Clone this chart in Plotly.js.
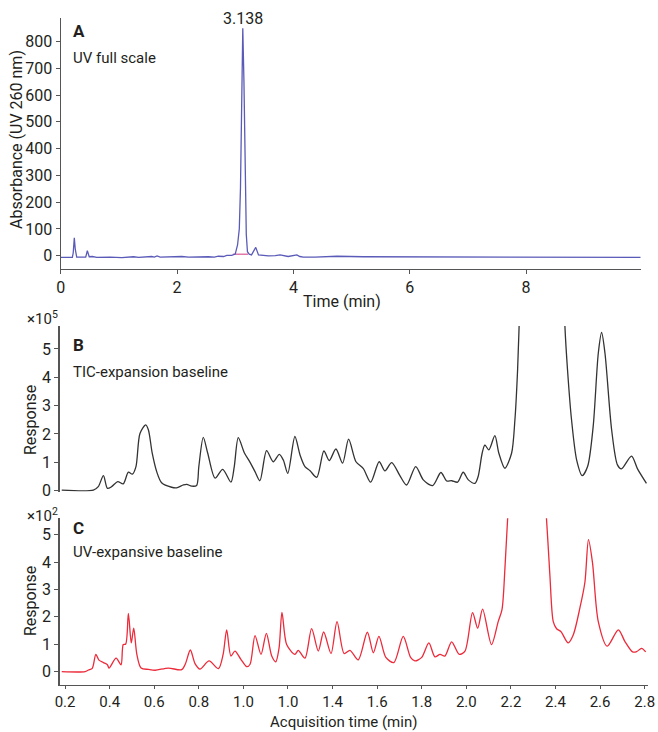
<!DOCTYPE html>
<html>
<head>
<meta charset="utf-8">
<script src="https://cdn.plot.ly/plotly-3.0.1.min.js"></script>
<style>
  html, body { margin: 0; padding: 0; background: #ffffff; }
  #chart { width: 658px; height: 732px; }
</style>
</head>
<body>
<div id="chart"></div>
<script>
// ---- Panel A: UV full scale (Absorbance vs Time) ----
const timeA = [0, 0.2, 0.215, 0.234, 0.25, 0.275, 0.43, 0.458, 0.49, 0.544, 0.62, 0.848, 1.05, 1.25, 1.34, 1.45, 1.51, 1.565, 1.61, 1.656, 1.71, 1.85, 1.97, 2.08, 2.2, 2.31, 2.42, 2.54, 2.64, 2.71, 2.8, 2.855, 2.94, 3.0, 3.04, 3.07, 3.09, 3.11, 3.13, 3.15, 3.17, 3.19, 3.21, 3.24, 3.28, 3.353, 3.4, 3.47, 3.5, 3.57, 3.69, 3.77, 3.91, 4.06, 4.11, 4.17, 4.37, 4.75, 5.2, 6.0, 7.0, 8.0, 9.0, 9.97];
const absA = [-6, -6, 10, 67, 25, -5, -5.5, 19, -4, -3, -6, -5, -7, -4, -6, -4, -5, -3, -5, -1, -5, -4, -5, -3, -5, -4, -5, -4, -5, -2, -3, 1, 1, 6, 40, 100, 250, 650, 850, 650, 300, 80, 15, 6, 3, 31, 3, 1, 2, -1, 0, 3, -3, 3, -3, -5, -5, -2, -4, -4, -4, -5, -5, -6];
const baselineX = [2.96, 3.22];
const baselineY = [5, 5];
const peakLabel = "3.138";
const peakTime = 3.138;
const peakHeight = 850;

// ---- Panel B: TIC expansion (x10^5) ----
const timeB = [0.185, 0.327, 0.349, 0.372, 0.39, 0.409, 0.436, 0.461, 0.484, 0.502, 0.518, 0.536, 0.562, 0.574, 0.591, 0.611, 0.633, 0.678, 0.70, 0.731, 0.746, 0.768, 0.79, 0.80, 0.82, 0.84, 0.873, 0.907, 0.944, 0.959, 0.977, 1.004, 1.03, 1.052, 1.074, 1.104, 1.134, 1.161, 1.179, 1.199, 1.231, 1.254, 1.276, 1.299, 1.329, 1.361, 1.385, 1.415, 1.445, 1.472, 1.505, 1.538, 1.571, 1.609, 1.635, 1.665, 1.702, 1.732, 1.773, 1.807, 1.849, 1.886, 1.912, 1.934, 1.961, 1.986, 2.009, 2.039, 2.053, 2.071, 2.083, 2.101, 2.128, 2.146, 2.173, 2.203, 2.218, 2.23, 2.237, 2.26, 2.34, 2.42, 2.442, 2.454, 2.472, 2.495, 2.52, 2.544, 2.569, 2.592, 2.607, 2.622, 2.652, 2.678, 2.696, 2.741, 2.768, 2.808];
const respB = [0.02, 0.02, 0.14, 0.53, 0.08, 0.14, 0.32, 0.24, 0.65, 0.58, 0.85, 2.02, 2.32, 2.14, 1.32, 0.67, 0.28, 0.12, 0.10, 0.20, 0.22, 0.16, 0.18, 0.85, 1.88, 1.32, 0.44, 0.75, 0.30, 0.85, 1.87, 1.34, 1.0, 0.67, 0.35, 1.41, 1.02, 1.28, 1.08, 0.61, 1.91, 1.26, 0.85, 0.70, 0.47, 1.40, 1.06, 1.47, 0.97, 1.82, 1.02, 0.78, 0.30, 1.02, 0.70, 0.99, 0.53, 0.20, 0.85, 0.38, 0.18, 0.64, 0.34, 0.35, 0.30, 0.65, 0.38, 0.26, 0.5, 1.32, 1.61, 1.44, 1.94, 1.32, 0.79, 1.32, 2.50, 4.26, 5.85, 12, 25, 12, 5.85, 4.26, 2.50, 1.08, 0.53, 0.85, 2.26, 4.85, 5.58, 4.85, 2.14, 0.91, 0.77, 1.22, 0.77, 0.26];

// ---- Panel C: UV expansion (x10^2) ----
const timeC = [0.185, 0.29, 0.305, 0.322, 0.338, 0.352, 0.372, 0.39, 0.397, 0.429, 0.451, 0.461, 0.472, 0.484, 0.497, 0.508, 0.522, 0.541, 0.574, 0.604, 0.663, 0.723, 0.74, 0.762, 0.783, 0.805, 0.846, 0.888, 0.909, 0.925, 0.944, 0.962, 0.988, 1.015, 1.03, 1.052, 1.079, 1.103, 1.127, 1.145, 1.16, 1.173, 1.194, 1.231, 1.246, 1.276, 1.306, 1.336, 1.36, 1.393, 1.42, 1.452, 1.478, 1.515, 1.556, 1.583, 1.608, 1.639, 1.675, 1.717, 1.75, 1.769, 1.8, 1.832, 1.859, 1.882, 1.904, 1.934, 1.968, 1.994, 2.028, 2.051, 2.073, 2.113, 2.143, 2.16, 2.173, 2.185, 2.22, 2.27, 2.32, 2.36, 2.375, 2.39, 2.405, 2.424, 2.457, 2.48, 2.509, 2.532, 2.548, 2.566, 2.592, 2.632, 2.682, 2.711, 2.746, 2.764, 2.786, 2.805];
const respC = [-0.01, -0.01, 0.05, 0.11, 0.62, 0.41, 0.32, 0.24, 0.12, 0.48, 0.24, 0.98, 1.0, 2.12, 1.04, 1.58, 0.62, 0.12, 0.07, 0.04, 0.12, 0.06, 0.28, 0.78, 0.28, 0.08, 0.38, 0.1, 0.62, 1.52, 0.56, 0.74, 0.45, 0.17, 0.26, 1.31, 0.62, 1.39, 0.56, 0.35, 0.86, 2.16, 0.98, 0.62, 0.77, 0.48, 1.56, 0.74, 1.44, 0.65, 1.82, 0.65, 0.77, 0.42, 1.43, 0.68, 1.28, 0.51, 0.32, 1.28, 0.51, 0.38, 0.51, 1.04, 0.53, 0.62, 0.56, 1.08, 0.62, 0.74, 2.15, 1.58, 2.28, 0.98, 1.82, 2.26, 3.74, 5.54, 10, 16, 10, 5.54, 3.5, 1.82, 1.56, 1.46, 1.04, 1.34, 2.30, 3.26, 4.82, 3.98, 1.82, 0.92, 1.52, 1.1, 0.71, 0.72, 0.84, 0.71];

// ---- Tick labels ----
const tickValsA = [0, 2, 4, 6, 8];
const tickValsAy = [0, 100, 200, 300, 400, 500, 600, 700, 800];
const tickValsResp = [0, 1, 2, 3, 4, 5];
const tickValsC = [0.2, 0.4, 0.6, 0.8, 1.0, 1.2, 1.4, 1.6, 1.8, 2.0, 2.2, 2.4, 2.6, 2.8];
const tickTextC = ["0.2", "0.4", "0.6", "0.8", "1.0", "1.0", "1.4", "1.6", "1.8", "2.0", "2.2", "2.4", "2.6", "2.8"];

const W = 658, H = 732;
const px = v => v / W;
const py = v => 1 - v / H;
const FONT = "Roboto, 'Liberation Sans', sans-serif";
const TXT = "#231f20";
const AX = "#555555";

const traces = [
  { x: baselineX, y: baselineY, xaxis: "x", yaxis: "y", mode: "lines",
    line: { color: "#e27aa8", width: 1.5 }, hoverinfo: "skip", showlegend: false },
  { x: timeA, y: absA, xaxis: "x", yaxis: "y", mode: "lines",
    line: { color: "#5a5ab8", width: 1.3 }, showlegend: false },
  { x: timeB, y: respB, xaxis: "x2", yaxis: "y2", mode: "lines",
    line: { color: "#333333", width: 1.3, shape: "spline", smoothing: 0.8 }, showlegend: false },
  { x: timeC, y: respC, xaxis: "x3", yaxis: "y3", mode: "lines",
    line: { color: "#ec2a3a", width: 1.3, shape: "spline", smoothing: 0.8 }, showlegend: false }
];

const baseAxis = {
  showgrid: false, zeroline: false, showline: true, linecolor: AX, linewidth: 1.2,
  ticks: "outside", ticklen: 4, tickwidth: 1, tickcolor: AX,
  tickfont: { family: FONT, size: 16, color: TXT }, fixedrange: true
};

const layout = {
  width: W, height: H,
  margin: { l: 0, r: 0, t: 0, b: 0 },
  paper_bgcolor: "#ffffff", plot_bgcolor: "#ffffff",
  font: { family: FONT, color: TXT },
  showlegend: false,
  xaxis: Object.assign({}, baseAxis, {
    domain: [px(60.7), px(640.7)], range: [0, 9.97], anchor: "y",
    tickvals: tickValsA, ticktext: tickValsA.map(String)
  }),
  yaxis: Object.assign({}, baseAxis, {
    domain: [py(268.7), py(18.3)], range: [-48.6, 887], anchor: "x",
    tickvals: tickValsAy, ticktext: tickValsAy.map(String)
  }),
  xaxis2: Object.assign({}, baseAxis, {
    domain: [px(59.5), px(648)], range: [0.175, 2.815], anchor: "y2",
    showline: false, ticks: "", showticklabels: false
  }),
  yaxis2: Object.assign({}, baseAxis, {
    domain: [py(491.5), py(326)], range: [-0.03, 5.81], anchor: "x2",
    tickvals: tickValsResp, ticktext: tickValsResp.map(String)
  }),
  xaxis3: Object.assign({}, baseAxis, {
    domain: [px(59.5), px(648)], range: [0.175, 2.815], anchor: "y3",
    ticklen: 3, tickvals: tickValsC, ticktext: tickTextC,
    tickfont: { family: FONT, size: 15, color: TXT }
  }),
  yaxis3: Object.assign({}, baseAxis, {
    domain: [py(685), py(518.3)], range: [-0.5, 5.6], anchor: "x3",
    tickvals: tickValsResp, ticktext: tickValsResp.map(String)
  }),
  annotations: [
    { text: peakLabel, x: peakTime, y: peakHeight, xref: "x", yref: "y",
      xanchor: "center", yanchor: "bottom", showarrow: false, yshift: -2,
      font: { family: FONT, size: 16, color: TXT } },
    { text: "<b>A</b>", x: px(71), y: py(31), xref: "paper", yref: "paper",
      xanchor: "left", yanchor: "middle", showarrow: false,
      font: { family: FONT, size: 17, color: TXT } },
    { text: "UV full scale", x: px(71), y: py(58), xref: "paper", yref: "paper",
      xanchor: "left", yanchor: "middle", showarrow: false,
      font: { family: FONT, size: 15, color: TXT } },
    { text: "Absorbance (UV 260 nm)", x: px(16), y: py(140), xref: "paper", yref: "paper",
      xanchor: "center", yanchor: "middle", textangle: -90, showarrow: false,
      font: { family: FONT, size: 16, color: TXT } },
    { text: "Time (min)", x: px(342), y: py(301), xref: "paper", yref: "paper",
      xanchor: "center", yanchor: "middle", showarrow: false,
      font: { family: FONT, size: 16, color: TXT } },
    { text: "×10<sup>5</sup>", x: px(25), y: py(318), xref: "paper", yref: "paper",
      xanchor: "left", yanchor: "middle", showarrow: false,
      font: { family: FONT, size: 15, color: TXT } },
    { text: "<b>B</b>", x: px(71), y: py(345), xref: "paper", yref: "paper",
      xanchor: "left", yanchor: "middle", showarrow: false,
      font: { family: FONT, size: 17, color: TXT } },
    { text: "TIC-expansion baseline", x: px(71), y: py(372), xref: "paper", yref: "paper",
      xanchor: "left", yanchor: "middle", showarrow: false,
      font: { family: FONT, size: 15, color: TXT } },
    { text: "Response", x: px(30), y: py(420), xref: "paper", yref: "paper",
      xanchor: "center", yanchor: "middle", textangle: -90, showarrow: false,
      font: { family: FONT, size: 16, color: TXT } },
    { text: "×10<sup>2</sup>", x: px(25), y: py(515), xref: "paper", yref: "paper",
      xanchor: "left", yanchor: "middle", showarrow: false,
      font: { family: FONT, size: 15, color: TXT } },
    { text: "<b>C</b>", x: px(71), y: py(528), xref: "paper", yref: "paper",
      xanchor: "left", yanchor: "middle", showarrow: false,
      font: { family: FONT, size: 17, color: TXT } },
    { text: "UV-expansive baseline", x: px(71), y: py(552), xref: "paper", yref: "paper",
      xanchor: "left", yanchor: "middle", showarrow: false,
      font: { family: FONT, size: 15, color: TXT } },
    { text: "Response", x: px(30), y: py(601), xref: "paper", yref: "paper",
      xanchor: "center", yanchor: "middle", textangle: -90, showarrow: false,
      font: { family: FONT, size: 16, color: TXT } },
    { text: "Acquisition time (min)", x: px(343), y: py(721.5), xref: "paper", yref: "paper",
      xanchor: "center", yanchor: "middle", showarrow: false,
      font: { family: FONT, size: 15, color: TXT } }
  ]
};

Plotly.newPlot("chart", traces, layout, { displayModeBar: false, staticPlot: true });
</script>
</body>
</html>
